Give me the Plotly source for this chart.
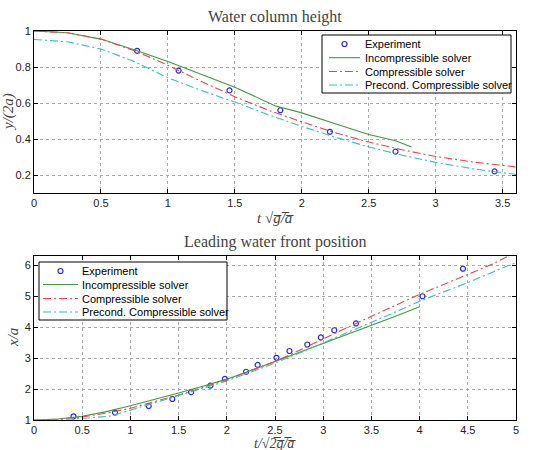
import plotly.graph_objects as go

# ---- Top panel: water column height ----
exp1_t = [0.77, 1.08, 1.46, 1.84, 2.21, 2.70, 3.44]
exp1_y = [0.89, 0.78, 0.67, 0.56, 0.44, 0.33, 0.22]

inc1_t = [0, 0.25, 0.5, 0.77, 1.0, 1.25, 1.5, 1.8, 2.0, 2.25, 2.5, 2.7, 2.82]
inc1_y = [1.0, 0.99, 0.955, 0.89, 0.83, 0.76, 0.688, 0.585, 0.545, 0.485, 0.425, 0.39, 0.355]

com1_t = [0, 0.25, 0.5, 0.77, 1.0, 1.25, 1.5, 1.75, 2.0, 2.25, 2.5, 2.75, 3.0, 3.3, 3.6]
com1_y = [1.0, 0.99, 0.955, 0.885, 0.81, 0.72, 0.635, 0.56, 0.495, 0.435, 0.383, 0.34, 0.303, 0.27, 0.245]

pre1_t = [0, 0.25, 0.5, 0.75, 1.0, 1.25, 1.5, 1.75, 2.0, 2.25, 2.5, 2.75, 3.0, 3.3, 3.6]
pre1_y = [0.953, 0.94, 0.90, 0.83, 0.74, 0.67, 0.605, 0.535, 0.47, 0.41, 0.356, 0.31, 0.27, 0.232, 0.203]

# ---- Bottom panel: leading water front position ----
exp2_t = [0.41, 0.84, 1.19, 1.435, 1.63, 1.83, 1.98, 2.20, 2.32, 2.515, 2.65, 2.835, 2.975, 3.115, 3.34, 4.03, 4.45]
exp2_x = [1.12, 1.24, 1.45, 1.68, 1.90, 2.11, 2.33, 2.56, 2.78, 3.01, 3.23, 3.44, 3.67, 3.90, 4.12, 5.0, 5.89]

inc2_t = [0, 0.25, 0.5, 0.75, 1.0, 1.25, 1.5, 1.75, 2.0, 2.25, 2.5, 2.75, 3.0, 3.25, 3.5, 3.75, 4.0]
inc2_x = [1.0, 1.03, 1.12, 1.27, 1.46, 1.66, 1.87, 2.09, 2.32, 2.6, 2.89, 3.19, 3.49, 3.77, 4.05, 4.35, 4.66]

com2_t = [0, 0.25, 0.5, 0.75, 1.0, 1.25, 1.5, 1.75, 2.0, 2.25, 2.5, 2.75, 3.0, 3.25, 3.5, 3.75, 4.0, 4.25, 4.5, 4.75, 4.92]
com2_x = [1.0, 1.02, 1.1, 1.22, 1.38, 1.59, 1.81, 2.05, 2.3, 2.6, 2.89, 3.25, 3.63, 3.99, 4.35, 4.7, 5.06, 5.38, 5.7, 6.03, 6.3]

pre2_t = [0, 0.25, 0.5, 0.8, 1.0, 1.25, 1.5, 1.75, 2.0, 2.25, 2.5, 2.75, 3.0, 3.25, 3.5, 3.75, 4.0, 4.25, 4.5, 4.75, 5.0]
pre2_x = [1.0, 1.01, 1.05, 1.13, 1.32, 1.55, 1.78, 2.02, 2.26, 2.55, 2.84, 3.16, 3.49, 3.82, 4.14, 4.49, 4.84, 5.14, 5.44, 5.77, 6.09]

names = ["Experiment", "Incompressible solver", "Compressible solver", "Precond. Compressible solver"]

BLUE = "#2a2ae8"
GREEN = "#3f9a3f"
RED = "#e8474a"
CYAN = "#33c2c2"
DASH = "8px,3px,2px,3px"

W, H = 534, 450
ML, MR, MT, MB = 34, 18, 31, 30
PW, PH = W - ML - MR, H - MT - MB

def px(x):
    return (x - ML) / PW

def py(y):
    return (H - MB - y) / PH

fig = go.Figure()

def add_panel(xa, ya, et, ey, it, iy, ct, cy, pt, pyy):
    fig.add_trace(go.Scatter(x=et, y=ey, mode="markers", name=names[0], showlegend=False,
                             marker=dict(symbol="circle-open", size=5, color=BLUE, line=dict(width=1.2)),
                             xaxis=xa, yaxis=ya))
    fig.add_trace(go.Scatter(x=it, y=iy, mode="lines", name=names[1], showlegend=False,
                             line=dict(color=GREEN, width=1.1), xaxis=xa, yaxis=ya))
    fig.add_trace(go.Scatter(x=ct, y=cy, mode="lines", name=names[2], showlegend=False,
                             line=dict(color=RED, width=1.1, dash=DASH), xaxis=xa, yaxis=ya))
    fig.add_trace(go.Scatter(x=pt, y=pyy, mode="lines", name=names[3], showlegend=False,
                             line=dict(color=CYAN, width=1.1, dash=DASH), xaxis=xa, yaxis=ya))

add_panel("x", "y", exp1_t, exp1_y, inc1_t, inc1_y, com1_t, com1_y, pre1_t, pre1_y)
add_panel("x2", "y2", exp2_t, exp2_x, inc2_t, inc2_x, com2_t, com2_x, pre2_t, pre2_x)

axis_common = dict(showline=True, linecolor="black", linewidth=1, mirror="ticks", ticks="inside",
                   ticklen=4, tickcolor="black", showgrid=True, gridcolor="#aaaaaa", griddash="dot",
                   gridwidth=1, zeroline=False,
                   tickfont=dict(family="Liberation Sans, Arial, sans-serif", size=11, color="#222"))

serif = "Liberation Serif, DejaVu Serif, serif"

fig.update_layout(
    width=W, height=H,
    margin=dict(l=ML, r=MR, t=MT, b=MB),
    plot_bgcolor="white", paper_bgcolor="white",
    showlegend=False,
    xaxis=dict(domain=[0, 1], range=[0, 3.6], tickvals=[0, 0.5, 1, 1.5, 2, 2.5, 3, 3.5],
               ticktext=["0", "0.5", "1", "1.5", "2", "2.5", "3", "3.5"], anchor="y", **axis_common),
    yaxis=dict(domain=[py(193), 1], range=[0.1, 1], tickvals=[0.2, 0.4, 0.6, 0.8, 1],
               ticktext=["0.2", "0.4", "0.6", "0.8", "1"], anchor="x", **axis_common),
    xaxis2=dict(domain=[0, 1], range=[0, 5], tickvals=[0, 0.5, 1, 1.5, 2, 2.5, 3, 3.5, 4, 4.5, 5],
                ticktext=["0", "0.5", "1", "1.5", "2", "2.5", "3", "3.5", "4", "4.5", "5"], anchor="y2", **axis_common),
    yaxis2=dict(domain=[0, py(256)], range=[1, 6.3], tickvals=[1, 2, 3, 4, 5, 6],
                ticktext=["1", "2", "3", "4", "5", "6"], anchor="x2", **axis_common),
)

# ---- hand-drawn legends (compact, MATLAB style) ----
leg_font = dict(family="Liberation Sans, Arial, sans-serif", size=11, color="black")

def draw_legend(x0, y0, x1, y1, rows, line_x0, line_x1, text_x):
    fig.add_shape(type="rect", xref="paper", yref="paper", x0=px(x0), x1=px(x1), y0=py(y1), y1=py(y0),
                  line=dict(color="black", width=1), fillcolor="white", layer="above")
    styles = [None, dict(color=GREEN, width=1.1), dict(color=RED, width=1.1, dash=DASH),
              dict(color=CYAN, width=1.1, dash=DASH)]
    for i, (name, ry) in enumerate(zip(names, rows)):
        if i == 0:
            cx = (line_x0 + line_x1) / 2
            fig.add_shape(type="circle", xref="paper", yref="paper", xsizemode="pixel", ysizemode="pixel",
                          xanchor=px(cx), yanchor=py(ry), x0=-2.5, x1=2.5, y0=-2.5, y1=2.5,
                          line=dict(color=BLUE, width=1.2), layer="above")
        else:
            fig.add_shape(type="line", xref="paper", yref="paper", x0=px(line_x0), x1=px(line_x1),
                          y0=py(ry), y1=py(ry), line=styles[i], layer="above")
        fig.add_annotation(text=name, xref="paper", yref="paper", x=px(text_x), y=py(ry),
                           xanchor="left", yanchor="middle", showarrow=False, font=leg_font)

draw_legend(322, 35, 511, 93, [44, 57.7, 71.5, 85], 329, 360, 363)
draw_legend(39, 262, 227, 320, [271, 284.5, 298.5, 312], 43, 78, 80)

ann_font = dict(family=serif, size=16, color="#444")
lab_font = dict(family=serif, size=15, color="#444", style="italic")
fig.add_annotation(text="Water column height", xref="paper", yref="paper", x=0.5, y=1.0,
                   xanchor="center", yanchor="bottom", yshift=3, showarrow=False, font=ann_font)
fig.add_annotation(text="Leading water front position", xref="paper", yref="paper", x=0.5, y=py(256),
                   xanchor="center", yanchor="bottom", yshift=3, showarrow=False, font=ann_font)
fig.add_annotation(text="t √g̅/̅a̅", xref="paper", yref="paper", x=0.5, y=py(193),
                   xanchor="center", yanchor="top", yshift=-15, showarrow=False, font=lab_font)
fig.add_annotation(text="t/√2̅g̅/̅a̅", xref="paper", yref="paper", x=0.5, y=0.0,
                   xanchor="center", yanchor="top", yshift=-14, showarrow=False,
                   font=dict(family=serif, size=14, color="#444", style="italic"))
fig.add_annotation(text="y/(2a)", xref="paper", yref="paper", x=0.0, y=py(112),
                   xanchor="center", yanchor="middle", xshift=-25, textangle=-90, showarrow=False, font=lab_font)
fig.add_annotation(text="x/a", xref="paper", yref="paper", x=0.0, y=py(338),
                   xanchor="center", yanchor="middle", xshift=-21, textangle=-90, showarrow=False, font=lab_font)

fig.write_html("out.html")
